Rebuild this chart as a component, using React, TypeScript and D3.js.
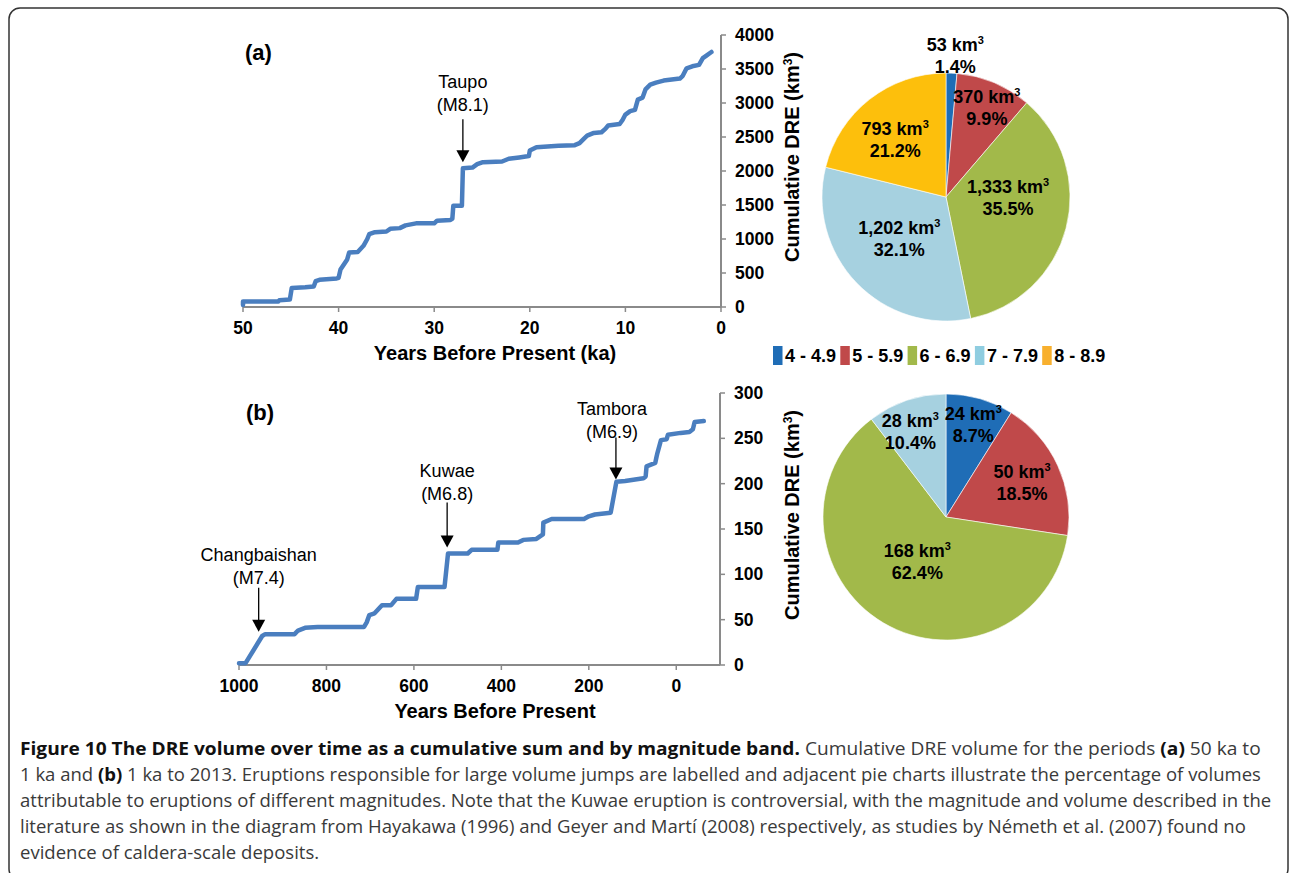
import React from 'react';
import * as d3 from 'd3';

// ---------- data ----------
// (a) cumulative DRE, 50 ka to 1 ka
const AGE_A = [50.0, 50.0, 46.3, 46.2, 45.1, 44.9, 43.5, 42.6, 42.4, 42.0, 40.2, 40.0, 39.8, 39.1, 38.9, 38.0, 37.4, 37.0, 36.8, 36.2, 35.0, 34.6, 33.6, 33.0, 31.9, 30.0, 29.7, 28.3, 28.1, 28.0, 27.1, 27.0, 26.0, 25.5, 24.9, 22.9, 22.2, 21.1, 20.1, 20.0, 19.3, 17.0, 15.3, 14.8, 14.3, 14.0, 13.3, 12.5, 12.1, 11.8, 10.6, 10.3, 10.0, 9.5, 9.0, 8.7, 8.2, 7.9, 7.4, 6.8, 6.0, 4.3, 4.0, 3.6, 3.0, 2.3, 1.9, 1.6, 1.0];
const CUM_A = [30, 80, 80, 100, 110, 280, 290, 300, 380, 400, 420, 430, 550, 700, 800, 810, 900, 1000, 1070, 1100, 1110, 1150, 1160, 1200, 1230, 1230, 1270, 1280, 1300, 1490, 1490, 2040, 2050, 2100, 2130, 2140, 2180, 2200, 2220, 2300, 2350, 2370, 2380, 2410, 2480, 2520, 2560, 2570, 2620, 2670, 2690, 2750, 2830, 2880, 2900, 3050, 3080, 3200, 3270, 3300, 3330, 3360, 3400, 3510, 3540, 3560, 3660, 3690, 3750];

// (b) cumulative DRE, 1 ka to 2013
const AGE_B = [1000, 985, 947, 940, 873, 865, 849, 820, 714, 708, 702, 690, 673, 652, 640, 595, 591, 530, 522, 477, 468, 409, 407, 362, 350, 320, 305, 304, 285, 211, 200, 186, 150, 137, 117, 75, 70, 68, 48, 45, 43, 35, 22, 19, -10, -30, -38, -42, -63];
const CUM_B = [2, 2, 32, 34, 34, 38, 41, 42, 42, 47, 55, 57, 66, 66, 73, 73, 86, 86, 123, 123, 127, 127, 135, 135, 138, 139, 144, 157, 161, 161, 164, 166, 168, 202, 203, 206, 208, 219, 223, 230, 234, 248, 249, 254, 256, 257, 260, 268, 269];

const TICKS_A_X = [50, 40, 30, 20, 10, 0];
const TICKS_A_Y = [0, 500, 1000, 1500, 2000, 2500, 3000, 3500, 4000];
const TICKS_B_X = [1000, 800, 600, 400, 200, 0];
const TICKS_B_Y = [0, 50, 100, 150, 200, 250, 300];

const ANN_A_NAMES = ['Taupo'];
const ANN_A_MAGS = ['(M8.1)'];
const ANN_A_AGES = [27.0];
const ANN_A_TIPS = [2040];

const ANN_B_NAMES = ['Changbaishan', 'Kuwae', 'Tambora'];
const ANN_B_MAGS = ['(M7.4)', '(M6.8)', '(M6.9)'];
const ANN_B_AGES = [955, 524, 138];
const ANN_B_TIPS = [30, 123, 198];

const BANDS = ['4 - 4.9', '5 - 5.9', '6 - 6.9', '7 - 7.9', '8 - 8.9'];
const VOL_A = [53, 370, 1333, 1202, 793];
const PCT_A = ['1.4%', '9.9%', '35.5%', '32.1%', '21.2%'];
const VOL_B = [24, 50, 168, 28];
const PCT_B = ['8.7%', '18.5%', '62.4%', '10.4%'];

const CAPTION: { t: string; b?: boolean }[][] = [
  [{ t: 'Figure 10 The DRE volume over time as a cumulative sum and by magnitude band.', b: true }, { t: ' Cumulative DRE volume for the periods ' }, { t: '(a)', b: true }, { t: ' 50 ka to' }],
  [{ t: '1 ka and ' }, { t: '(b)', b: true }, { t: ' 1 ka to 2013. Eruptions responsible for large volume jumps are labelled and adjacent pie charts illustrate the percentage of volumes' }],
  [{ t: 'attributable to eruptions of different magnitudes. Note that the Kuwae eruption is controversial, with the magnitude and volume described in the' }],
  [{ t: 'literature as shown in the diagram from Hayakawa (1996) and Geyer and Martí (2008) respectively, as studies by Németh et al. (2007) found no' }],
  [{ t: 'evidence of caldera-scale deposits.' }],
];

// ---------- styles / layout ----------
const FONT = "'Liberation Sans', Arial, Helvetica, sans-serif";
const CAP_FONT_NAME = "'Open Sans'";
const CAP_FONT = "'Open Sans', 'Noto Sans', sans-serif";
const CAP_SIZE = 17.5;
const LINE_COLOR = '#4A7EBF';
const AXIS_COLOR = '#8A8A8A';
const PIE_COLORS = ['#1F6DB6', '#C0494A', '#A2B94A', '#A6D1E0', '#FDBF0C'];
const LEGEND_COLORS = ['#1F6DB6', '#C0494A', '#A2B94A', '#8FCDE0', '#F8B02E'];
// rendered width of each caption line (0 = use the scale of the previous line)
const CAP_WIDTHS = [1242, 1242, 1252, 1227, 0];

type Ann = { name: string; mag: string; age: number; tip: number; len: number; gap: number; dx: number };

function measureLine(segs: { t: string; b?: boolean }[]): number {
  const c = typeof document !== 'undefined' ? document.createElement('canvas').getContext('2d') : null;
  if (!c) return segs.reduce((s, g) => s + g.t.length * CAP_SIZE * 0.53, 0);
  let w = 0;
  segs.forEach(s => {
    c.font = `${s.b ? 'bold' : 'normal'} ${CAP_SIZE}px ${CAP_FONT_NAME}`;
    w += c.measureText(s.t).width;
  });
  return w;
}

function LinePanel(props: {
  ages: number[]; cums: number[];
  x: d3.ScaleLinear<number, number>; y: d3.ScaleLinear<number, number>;
  xTicks: number[]; yTicks: number[];
  xTitle: string; label: string; labelX: number; labelY: number;
  titleX: number; yTitle: string; yTitleX: number; yTitleY: number;
  anns: Ann[];
}) {
  const { ages, cums, x, y, xTicks, yTicks } = props;
  const pts = ages.map((a, i) => [a, cums[i]] as [number, number]);
  const line = d3.line<[number, number]>().x(d => x(d[0])).y(d => y(d[1]));
  const xd = x.domain();
  const yd = y.domain();
  const axisX = x(xd[1]);
  const y0 = y(yd[0]);
  return (
    <g>
      <line x1={x(xd[0])} x2={axisX} y1={y0} y2={y0} stroke={AXIS_COLOR} strokeWidth={2} />
      {xTicks.map(t => (
        <g key={'xt' + t}>
          <line x1={x(t)} x2={x(t)} y1={y0} y2={y0 + 5} stroke={AXIS_COLOR} strokeWidth={1.5} />
          <text x={x(t)} y={y0 + 21} textAnchor="middle" dy="0.35em" fontFamily={FONT} fontWeight="bold" fontSize={17.5}>{t}</text>
        </g>
      ))}
      <line x1={axisX} x2={axisX} y1={y0} y2={y(yd[1])} stroke={AXIS_COLOR} strokeWidth={2} />
      {yTicks.map(t => (
        <g key={'yt' + t}>
          <line x1={axisX} x2={axisX + 5} y1={y(t)} y2={y(t)} stroke={AXIS_COLOR} strokeWidth={1.5} />
          <text x={axisX + 14} y={y(t)} dy="0.35em" fontFamily={FONT} fontWeight="bold" fontSize={17.5}>{t}</text>
        </g>
      ))}
      <text x={props.titleX} y={y0 + 46} textAnchor="middle" dy="0.35em" fontFamily={FONT} fontWeight="bold" fontSize={20}>{props.xTitle}</text>
      <text transform={`translate(${props.yTitleX},${props.yTitleY}) rotate(-90)`} textAnchor="middle" dy="0.35em" fontFamily={FONT} fontWeight="bold" fontSize={20}>
        {props.yTitle}<tspan fontSize={12} dy="-7">3</tspan><tspan dy="7">)</tspan>
      </text>
      <path d={line(pts) || ''} fill="none" stroke={LINE_COLOR} strokeWidth={4.5} strokeLinejoin="round" strokeLinecap="round" />
      <text x={props.labelX} y={props.labelY} dy="0.35em" fontFamily={FONT} fontWeight="bold" fontSize={22}>{props.label}</text>
      {props.anns.map(a => {
        const ax = x(a.age);
        const tip = y(a.tip) - 6;
        const top = tip - a.len;
        const l2 = top - a.gap;
        return (
          <g key={a.name}>
            <line x1={ax} x2={ax} y1={top} y2={tip - 10} stroke="#000" strokeWidth={1.3} />
            <path d={`M${ax - 6.5},${tip - 12}L${ax + 6.5},${tip - 12}L${ax},${tip}Z`} fill="#000" />
            <text x={ax + a.dx} y={l2 - 23} textAnchor="middle" dy="0.35em" fontFamily={FONT} fontSize={18}>{a.name}</text>
            <text x={ax + a.dx} y={l2} textAnchor="middle" dy="0.35em" fontFamily={FONT} fontSize={18}>{a.mag}</text>
          </g>
        );
      })}
    </g>
  );
}

function Pie(props: { values: number[]; pcts: string[]; cx: number; cy: number; r: number; nudges: [number, number][] }) {
  const { values, pcts, cx, cy, r } = props;
  const arcs = d3.pie<number>().sort(null).value(d => d)(values);
  const arc = d3.arc<d3.PieArcDatum<number>>().innerRadius(0).outerRadius(r);
  const lab = d3.arc<d3.PieArcDatum<number>>().innerRadius(r * 0.6).outerRadius(r * 0.6);
  const fmt = d3.format(',');
  return (
    <g transform={`translate(${cx},${cy})`}>
      {arcs.map((a, i) => (
        <path key={'s' + i} d={arc(a) || ''} fill={PIE_COLORS[i]} stroke="#fff" strokeWidth={0.6} />
      ))}
      {arcs.map((a, i) => {
        const [lx, ly] = lab.centroid(a);
        const px = lx + props.nudges[i][0];
        const py = ly + props.nudges[i][1];
        return (
          <g key={'l' + i} fontFamily={FONT} fontWeight="bold" fontSize={18} textAnchor="middle">
            <text x={px} y={py - 11} dy="0.35em">{fmt(values[i])} km<tspan fontSize={11} dy="-7">3</tspan></text>
            <text x={px} y={py + 11} dy="0.35em">{pcts[i]}</text>
          </g>
        );
      })}
    </g>
  );
}

function Caption() {
  const widths = CAPTION.map(measureLine);
  let prev = 1;
  const scales = CAPTION.map((_, i) => {
    const s = CAP_WIDTHS[i] > 0 ? CAP_WIDTHS[i] / widths[i] : prev;
    prev = s;
    return s;
  });
  return (
    <g>
      {CAPTION.map((segs, li) => (
        <text key={'c' + li} transform={`translate(20,${749 + li * 26}) scale(${scales[li]},1)`} dy="0.35em"
          fontFamily={CAP_FONT} fontSize={CAP_SIZE} fill="#3a3a3a" style={{ whiteSpace: 'pre' }}>
          {segs.map((s, si) => (
            <tspan key={si} fontWeight={s.b ? 'bold' : 'normal'} fill={s.b ? '#111' : '#3a3a3a'}>{s.t}</tspan>
          ))}
        </text>
      ))}
    </g>
  );
}

export default function App() {
  const xA = d3.scaleLinear().domain([50, 0]).range([243, 721]);
  const yA = d3.scaleLinear().domain([0, 4000]).range([307, 35]);
  const xB = d3.scaleLinear().domain([1000, -100]).range([239, 720]);
  const yB = d3.scaleLinear().domain([0, 300]).range([665, 393]);

  const annA: Ann[] = ANN_A_NAMES.map((n, i) => ({ name: n, mag: ANN_A_MAGS[i], age: ANN_A_AGES[i], tip: ANN_A_TIPS[i], len: 43, gap: 15, dx: 0 }));
  const annLayoutB = [[44, 10, 0], [45, 9, 0], [42, 6, -4]];
  const annB: Ann[] = ANN_B_NAMES.map((n, i) => ({ name: n, mag: ANN_B_MAGS[i], age: ANN_B_AGES[i], tip: ANN_B_TIPS[i], len: annLayoutB[i][0], gap: annLayoutB[i][1], dx: annLayoutB[i][2] }));

  return (
    <svg width={1290} height={873} style={{ position: 'absolute', left: 0, top: 0, background: '#fff' }}>
      <rect x={9} y={8} width={1279} height={872} rx={11} fill="#fff" stroke="#333" strokeWidth={1.5} />
      <LinePanel ages={AGE_A} cums={CUM_A} x={xA} y={yA} xTicks={TICKS_A_X} yTicks={TICKS_A_Y}
        xTitle="Years Before Present (ka)" label="(a)" labelX={245} labelY={52} titleX={495}
        yTitle="Cumulative DRE (km" yTitleX={792} yTitleY={157} anns={annA} />
      <LinePanel ages={AGE_B} cums={CUM_B} x={xB} y={yB} xTicks={TICKS_B_X} yTicks={TICKS_B_Y}
        xTitle="Years Before Present" label="(b)" labelX={246} labelY={412} titleX={495}
        yTitle="Cumulative DRE (km" yTitleX={792} yTitleY={515} anns={annB} />
      <Pie values={VOL_A} pcts={PCT_A} cx={946} cy={197} r={124}
        nudges={[[6, -67], [12, -21], [-10, -18], [7, -10], [-5, 1]]} />
      <Pie values={VOL_B} pcts={PCT_B} cx={946} cy={517} r={123}
        nudges={[[7, -21], [9, -4], [9, -19], [-12, -15]]} />
      {BANDS.map((b, i) => {
        const lx = 773 + i * 67.3;
        return (
          <g key={b}>
            <rect x={lx} y={346} width={9.5} height={19} fill={LEGEND_COLORS[i]} />
            <text x={lx + 12} y={355.5} dy="0.35em" fontFamily={FONT} fontWeight="bold" fontSize={18}>{b}</text>
          </g>
        );
      })}
      <Caption />
    </svg>
  );
}
